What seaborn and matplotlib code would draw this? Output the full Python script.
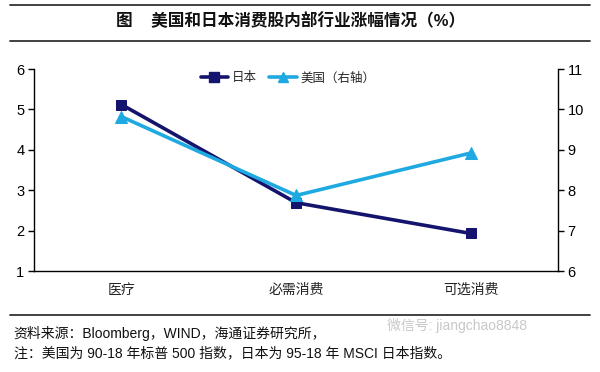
import pandas as pd
import matplotlib.pyplot as plt
import seaborn as sns
from matplotlib.lines import Line2D

# 数据：消费股内部行业涨幅
categories = ['医疗', '必需消费', '可选消费']
japan = [5.12, 2.69, 1.93]
usa = [9.82, 7.87, 8.92]

sns.set_theme(style='white')
plt.rcParams['font.family'] = ['Liberation Sans', 'Noto Sans CJK SC', 'DejaVu Sans']
plt.rcParams['axes.unicode_minus'] = False

df = pd.DataFrame({'行业': categories, '日本': japan, '美国': usa})
df['x'] = range(len(categories))

c_jp = '#14146e'
c_us = '#1fa9e1'

fig = plt.figure(figsize=(6, 3.72), dpi=100)
ax = fig.add_axes([0.057, 0.2715, 0.873, 0.543])
ax2 = ax.twinx()

sns.lineplot(data=df, x='x', y='日本', ax=ax, color=c_jp, lw=2.6, marker='s',
             markersize=7, markerfacecolor=c_jp, markeredgecolor=c_jp, zorder=3)
sns.lineplot(data=df, x='x', y='美国', ax=ax2, color=c_us, lw=2.6, marker='^',
             markersize=8, markerfacecolor=c_us, markeredgecolor=c_us, zorder=2)

ax.set_xlim(-0.5, 2.5)
ax.set_ylim(1, 6)
ax2.set_ylim(6, 11)
ax.set_xticks([0.5, 1.5])
ax.set_xticklabels([])
ax.set_yticks(range(1, 7))
ax2.set_yticks(range(6, 12))
ax.set_xlabel('')
ax.set_ylabel('')
ax2.set_ylabel('')
for i, c in enumerate(categories):
    ax.text(i, -0.06, c, transform=ax.get_xaxis_transform(), ha='center', va='top',
            fontsize=10, color='#222222')

for a in (ax, ax2):
    for s in a.spines.values():
        s.set_visible(False)
    a.tick_params(axis='both', direction='out', length=4, width=1, colors='black',
                  labelsize=10.5, pad=3)
ax.spines['left'].set_visible(True)
ax.spines['bottom'].set_visible(True)
ax2.spines['right'].set_visible(True)
for s in (ax.spines['left'], ax.spines['bottom'], ax2.spines['right']):
    s.set_color('black')
    s.set_linewidth(1)

handles = [Line2D([], [], color=c_jp, lw=2.6, marker='s', markersize=7),
           Line2D([], [], color=c_us, lw=2.6, marker='^', markersize=7)]
ax.legend(handles, ['日本', '美国（右轴）'], loc='upper center', bbox_to_anchor=(0.485, 1.04),
          ncol=2, frameon=False, fontsize=9, handlelength=2.2, columnspacing=1.0,
          handletextpad=0.3)

# 标题与分隔线
for y in (0.987, 0.89, 0.153):
    fig.add_artist(Line2D([0.017, 0.983], [y, y], color='#333333', lw=1.3))
fig.text(0.485, 0.945, '图    美国和日本消费股内部行业涨幅情况（%）', ha='center', va='center',
         fontsize=12, fontweight='bold', color='#111111')
fig.text(0.023, 0.104, '资料来源：Bloomberg，WIND，海通证券研究所，', ha='left', va='center',
         fontsize=10, color='#111111')
fig.text(0.023, 0.05, '注：美国为 90-18 年标普 500 指数，日本为 95-18 年 MSCI 日本指数。', ha='left',
         va='center', fontsize=10, color='#111111')
fig.text(0.645, 0.125, '微信号: jiangchao8848', ha='left', va='center', fontsize=10,
         color='#c8c8c8')

fig.savefig('out.png', dpi=100)
